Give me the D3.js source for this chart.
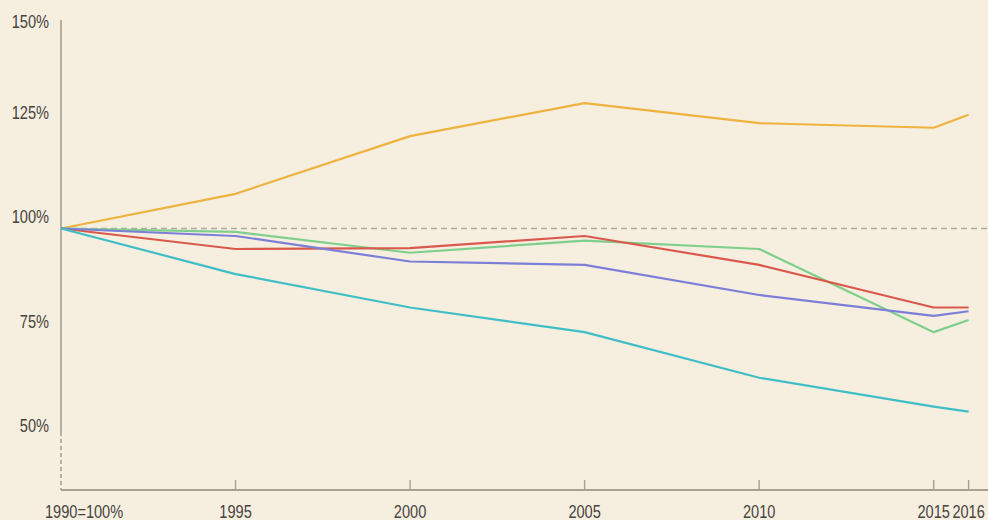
<!DOCTYPE html>
<html>
<head>
<meta charset="utf-8">
<script src="https://cdn.jsdelivr.net/npm/d3@7"></script>
<style>
  html, body { margin: 0; padding: 0; background: #f6efe0; }
  svg { display: block; }
  text { font-family: "Liberation Sans", Arial, sans-serif; fill: #47433e; }
</style>
</head>
<body>
<svg id="chart" width="988" height="520"></svg>
<script>
const years = [1990, 1995, 2000, 2005, 2010, 2015, 2016];
const xTickLabels = ["1990=100%", "1995", "2000", "2005", "2010", "2015", "2016"];
const yTicks = [50, 75, 100, 125, 150];

const orangeSeries = [100, 108.3, 122.1, 130.0, 125.2, 124.1, 127.2];
const redSeries    = [100, 95.1, 95.3, 98.2, 91.3, 81.1, 81.1];
const greenSeries  = [100, 99.2, 94.2, 97.1, 95.1, 75.2, 78.1];
const blueSeries   = [100, 98.2, 92.1, 91.3, 84.1, 79.1, 80.2];
const tealSeries   = [100, 89.1, 81.1, 75.2, 64.3, 57.4, 56.2];

const seriesList = [
  { values: orangeSeries, color: "#eeb23e" },
  { values: greenSeries,  color: "#7fcf8c" },
  { values: redSeries,    color: "#d95a4c" },
  { values: blueSeries,   color: "#7b7fd8" },
  { values: tealSeries,   color: "#3fbec6" }
];

const svg = d3.select("#chart");
const W = 988, H = 520;
svg.append("rect").attr("width", W).attr("height", H).attr("fill", "#f6efe0");

const x = d3.scaleLinear().domain([1990, 2016]).range([61, 968.6]);
const y = d3.scaleLinear().domain([100, 150]).range([228.5, 19.5]);
const axisColor = "#a8a091";
const xAxisY = 490;
const condensed = 0.81;
const fontSize = 18;

// Y axis line: solid to ~50%, dashed break to x-axis
svg.append("line").attr("x1", x(1990)).attr("x2", x(1990))
  .attr("y1", 20).attr("y2", 432).attr("stroke", axisColor).attr("stroke-width", 1.6);
svg.append("line").attr("x1", x(1990)).attr("x2", x(1990))
  .attr("y1", 432).attr("y2", xAxisY).attr("stroke", axisColor).attr("stroke-width", 1.6)
  .attr("stroke-dasharray", "4,3");

// Y labels
svg.append("g").selectAll("text").data(yTicks).join("text")
  .attr("transform", d => `translate(49,${Math.max(y(d) - 12, 21)}) scale(${condensed},1)`)
  .attr("text-anchor", "end").attr("dominant-baseline", "central")
  .attr("font-size", fontSize).text(d => d + "%");

// 100% reference line
svg.append("line").attr("x1", x(1990)).attr("x2", W)
  .attr("y1", y(100)).attr("y2", y(100))
  .attr("stroke", "#b0aaa0").attr("stroke-width", 1.3).attr("stroke-dasharray", "6,4");

// X axis
svg.append("line").attr("x1", x(1990)).attr("x2", W)
  .attr("y1", xAxisY).attr("y2", xAxisY).attr("stroke", axisColor).attr("stroke-width", 2);
svg.append("g").selectAll("line").data(years.slice(1)).join("line")
  .attr("x1", d => x(d)).attr("x2", d => x(d))
  .attr("y1", xAxisY - 10).attr("y2", xAxisY)
  .attr("stroke", axisColor).attr("stroke-width", 1.4);
svg.append("g").selectAll("text").data(years).join("text")
  .attr("transform", (d, i) => `translate(${i === 0 ? 45 : x(d)},511) scale(${condensed},1)`)
  .attr("text-anchor", (d, i) => i === 0 ? "start" : "middle")
  .attr("dominant-baseline", "central")
  .attr("font-size", fontSize)
  .text((d, i) => xTickLabels[i]);

// Lines
const line = d3.line().x((d, i) => x(years[i])).y(d => y(d));
svg.append("g").selectAll("path").data(seriesList).join("path")
  .attr("d", s => line(s.values))
  .attr("fill", "none").attr("stroke", s => s.color)
  .attr("stroke-width", 2.2).attr("stroke-linejoin", "round");
</script>
</body>
</html>
